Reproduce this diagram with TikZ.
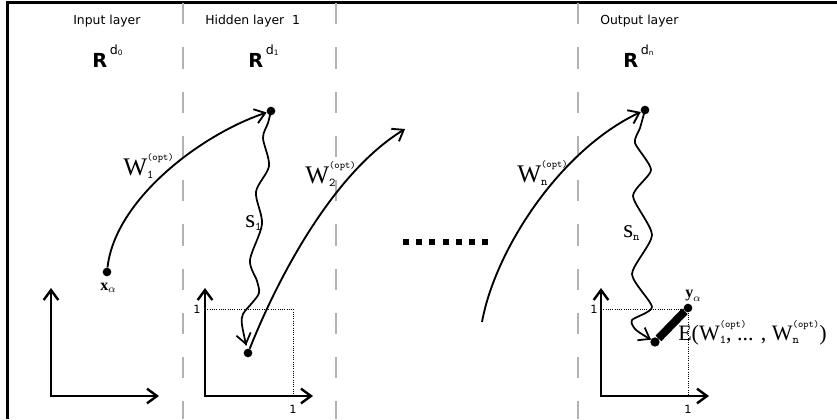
\documentclass[tikz,border=0pt]{standalone}
\usepackage{fontspec}
\setmainfont{Liberation Serif}
\setsansfont{DejaVu Sans}
\usetikzlibrary{arrows.meta, calc}

\newcommand{\optfont}{\fontsize{7.5}{8}\selectfont\ttfamily}
\newcommand{\subfont}{\fontsize{9}{9}\selectfont\ttfamily}
% W with sub and (opt) on top; the narrow one only advances by the sub
\newcommand{\wopt}[1]{W\rlap{\raisebox{-0.14em}{\subfont #1}}\raisebox{0.58em}{\optfont(opt)}}
\newcommand{\woptnarrow}[1]{W\rlap{\raisebox{0.58em}{\optfont(opt)}}\raisebox{-0.14em}{\subfont #1}}
\newcommand{\rdim}[1]{\textbf{R}\kern2pt\raisebox{9.4pt}{\fontsize{9.5}{10}\selectfont d\raisebox{-0.6pt}{\fontsize{5.5}{6}\selectfont #1}}}

\begin{document}
\begin{tikzpicture}[x=0.75pt, y=-0.75pt,
    framel/.style={line width=1.8pt},
    sepline/.style={gray!60, line width=1pt, dash pattern=on 16pt off 17.2pt},
    layertitle/.style={font=\sffamily\fontsize{9.3}{11}\selectfont, anchor=base west, inner sep=0pt},
    spacelbl/.style={font=\sffamily\fontsize{14.5}{16}\selectfont, anchor=base west, inner sep=0pt},
    labbig/.style={font=\fontsize{19}{21}\selectfont, anchor=base west, inner sep=0pt},
    labsmall/.style={font=\fontsize{12}{14}\selectfont, anchor=base west, inner sep=0pt},
    unitlbl/.style={font=\sffamily\fontsize{8.5}{9}\selectfont, inner sep=0pt},
    ptdot/.style={circle, fill, inner sep=0pt, minimum size=#1},
    ptdot/.default=6.5pt,
    barb/.style={-{Straight Barb[length=7.5pt,width=11pt]}},
    axisline/.style={line width=1.8pt, {Straight Barb[length=7.5pt,width=11pt]}-{Straight Barb[length=7.5pt,width=11pt]}},
    mapline/.style={line width=1.4pt, barb},
    walkline/.style={line width=1.3pt, barb},
    guideline/.style={densely dotted, line width=0.7pt}]
  \useasboundingbox (0,0) rectangle (837,419);

  % frame and layer separators
  \draw[framel] (837,2.5) -- (7.5,2.5) -- (7.5,419);
  \foreach \sx in {183,336,578}
    \draw[sepline] (\sx,3) -- (\sx,419);

  \node[layertitle] (intitle) at (73,24) {Input layer};
  \node[layertitle] (hidtitle) at (205,24) {Hidden layer\ \ 1};
  \node[layertitle] (outtitle) at (600,24) {Output layer};

  \node[spacelbl] (rin) at (92,67) {\rdim{0}};
  \node[spacelbl] (rhid) at (248,67) {\rdim{1}};
  \node[spacelbl] (rout) at (623,67) {\rdim{n}};

  % unit squares
  \draw[guideline] (205,309) -- (293,309) -- (293,396);
  \draw[guideline] (601,309) -- (688,309) -- (688,396);

  % axes
  \foreach \ox/\nm in {51/a, 205/b, 601/c} {
    \coordinate (o\nm) at (\ox,396);
    \draw[axisline] ($(o\nm)+(0,-108)$) -- (o\nm) -- ++(108,0);
  }
  \node[unitlbl] (one1) at (197,309) {1};
  \node[unitlbl] (one2) at (293,409) {1};
  \node[unitlbl] (one3) at (594,309) {1};
  \node[unitlbl] (one4) at (688,409) {1};

  \node[ptdot] (xa) at (107,272) {};
  \node[ptdot] (top1) at (271,111) {};
  \node[ptdot] (bot1) at (248,353) {};
  \node[ptdot] (topn) at (645,110) {};
  \node[ptdot=7pt] (botn) at (655,342) {};
  \node[ptdot] (ya) at (688,308) {};
  \coordinate (w2tip) at (405,129);
  \coordinate (wn0) at (482,322);

  \draw[mapline] (xa) .. controls (115,200) and (200,135) .. (top1);
  \draw[mapline] (bot1) .. controls (275,285) and (330,175) .. (w2tip);
  \draw[mapline] (wn0) .. controls (495,250) and (560,150) .. (topn);

  \draw[walkline, shorten >=6pt] plot[smooth, tension=0.5] coordinates {(top1) (268,123) (263,138) (269,166)
    (256,192) (262,224) (250,260) (257,281) (259,293) (252,303) (243,314) (242,325) (bot1)};
  \draw[walkline, shorten >=3.5pt] plot[smooth, tension=0.4] coordinates {(topn) (640,128) (635,143) (651,170)
    (633,196) (652,235) (632,274) (652,307) (632,320) (636,330) (botn)};

  \draw[line width=6pt] (botn) -- (ya);

  \foreach \i in {0,...,6}
    \fill (403+\i*13.17,239) rectangle +(6,6);

  \node[labbig] (w1lbl) at (123,175) {\wopt{1}};
  \node[labbig] (w2lbl) at (305,183) {\wopt{2}};
  \node[labbig] (wnlbl) at (517,182) {\wopt{n}};
  \node[labbig] (s1lbl) at (245,227) {s\raisebox{-0.14em}{\subfont 1}};
  \node[labbig] (snlbl) at (623,237) {s\raisebox{-0.14em}{\subfont n}};
  \node[labsmall] (xalbl) at (100,290) {$\hbox{\bfseries x}_\alpha$};
  \node[labsmall] (yalbl) at (685,297) {$\hbox{\bfseries y}_\alpha$};
  \node[labbig, font=\fontsize{16.5}{18}\selectfont] (errlbl) at (678,340) {E(\woptnarrow{1}, ... , \wopt{n})};
\end{tikzpicture}
\end{document}
